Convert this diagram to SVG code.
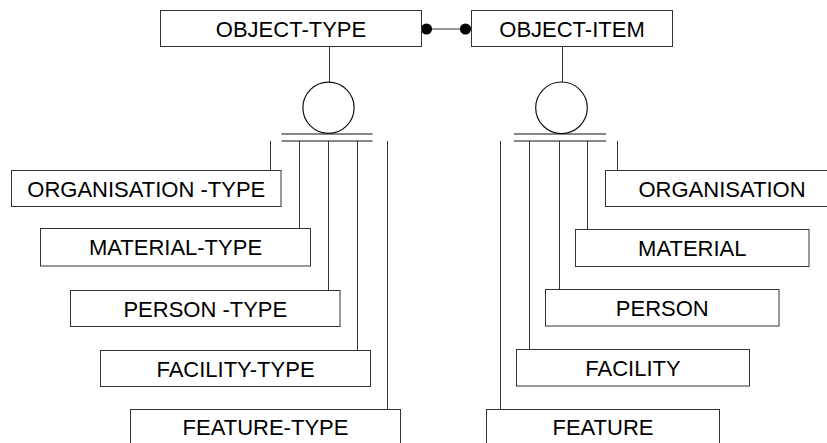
<svg xmlns="http://www.w3.org/2000/svg" width="827" height="443" viewBox="0 0 827 443">
  <style>
    .box { fill: #ffffff; stroke: #333333; stroke-width: 1; }
    .lbl { font-family: "Liberation Sans", Arial, sans-serif; font-size: 22px; fill: #000000; text-anchor: middle; }
    .ln { stroke: #333333; stroke-width: 1; fill: none; }
    .sym { stroke: #111111; stroke-width: 1.2; fill: none; }
    .dot { fill: #000000; }
  </style>
  <rect width="827" height="443" fill="#ffffff"/>

  <!-- connectors -->
  <g id="connectors">
    <!-- relationship between type and item -->
    <line class="ln" x1="421" y1="29" x2="471" y2="29"/>
    <circle class="dot" cx="426.5" cy="29" r="5.6"/>
    <circle class="dot" cx="465.5" cy="29" r="5.6"/>

    <!-- OBJECT-TYPE subtype hierarchy -->
    <line class="ln" x1="329.5" y1="46.5" x2="329.5" y2="82"/>
    <circle class="sym" cx="328.5" cy="107.8" r="25.6"/>
    <line class="sym" x1="281.5" y1="134" x2="372.5" y2="134"/>
    <line class="sym" x1="281.5" y1="141" x2="372.5" y2="141"/>
    <line class="ln" x1="270.5" y1="141" x2="270.5" y2="170.5"/>
    <line class="ln" x1="299.5" y1="141" x2="299.5" y2="228.5"/>
    <line class="ln" x1="328.5" y1="141" x2="328.5" y2="290.5"/>
    <line class="ln" x1="357.5" y1="141" x2="357.5" y2="350.5"/>
    <line class="ln" x1="387.5" y1="141" x2="387.5" y2="409.5"/>

    <!-- OBJECT-ITEM subtype hierarchy -->
    <line class="ln" x1="562.5" y1="46.5" x2="562.5" y2="82"/>
    <circle class="sym" cx="561.5" cy="107.8" r="25.8"/>
    <line class="sym" x1="514" y1="134" x2="606" y2="134"/>
    <line class="sym" x1="514" y1="141" x2="606" y2="141"/>
    <line class="ln" x1="500.5" y1="141" x2="500.5" y2="409.5"/>
    <line class="ln" x1="529.5" y1="141" x2="529.5" y2="349.5"/>
    <line class="ln" x1="559.5" y1="141" x2="559.5" y2="289.5"/>
    <line class="ln" x1="587.5" y1="141" x2="587.5" y2="229.5"/>
    <line class="ln" x1="617.5" y1="141" x2="617.5" y2="170.5"/>
  </g>

  <!-- nodes -->
  <g id="object-type">
    <rect class="box" x="160.5" y="10.5" width="261" height="36"/>
    <text class="lbl" x="291" y="36.8">OBJECT-TYPE</text>
  </g>
  <g id="object-item">
    <rect class="box" x="471.5" y="10.5" width="201" height="36"/>
    <text class="lbl" x="572" y="36.8">OBJECT-ITEM</text>
  </g>

  <g id="organisation-type">
    <rect class="box" x="11.5" y="170.5" width="269.5" height="36"/>
    <text class="lbl" x="146.3" y="196.5">ORGANISATION -TYPE</text>
  </g>
  <g id="material-type">
    <rect class="box" x="40.5" y="228.5" width="270" height="37.5"/>
    <text class="lbl" x="175.5" y="255">MATERIAL-TYPE</text>
  </g>
  <g id="person-type">
    <rect class="box" x="70.5" y="290.5" width="269.5" height="36"/>
    <text class="lbl" x="205.3" y="316.5">PERSON -TYPE</text>
  </g>
  <g id="facility-type">
    <rect class="box" x="100.5" y="350.5" width="270" height="36"/>
    <text class="lbl" x="235.5" y="376.5">FACILITY-TYPE</text>
  </g>
  <g id="feature-type">
    <rect class="box" x="130.5" y="409.5" width="270" height="36"/>
    <text class="lbl" x="265.5" y="435.3">FEATURE-TYPE</text>
  </g>

  <g id="organisation">
    <rect class="box" x="605.5" y="170.5" width="233" height="36"/>
    <text class="lbl" x="722" y="196.5">ORGANISATION</text>
  </g>
  <g id="material">
    <rect class="box" x="575.5" y="229.5" width="233.5" height="37"/>
    <text class="lbl" x="692.3" y="255.8">MATERIAL</text>
  </g>
  <g id="person">
    <rect class="box" x="545.5" y="289.5" width="233.5" height="36.5"/>
    <text class="lbl" x="662.3" y="315.8">PERSON</text>
  </g>
  <g id="facility">
    <rect class="box" x="516.5" y="349.5" width="233" height="36.5"/>
    <text class="lbl" x="633" y="375.8">FACILITY</text>
  </g>
  <g id="feature">
    <rect class="box" x="486.5" y="409.5" width="233" height="36"/>
    <text class="lbl" x="603" y="435.3">FEATURE</text>
  </g>
</svg>
